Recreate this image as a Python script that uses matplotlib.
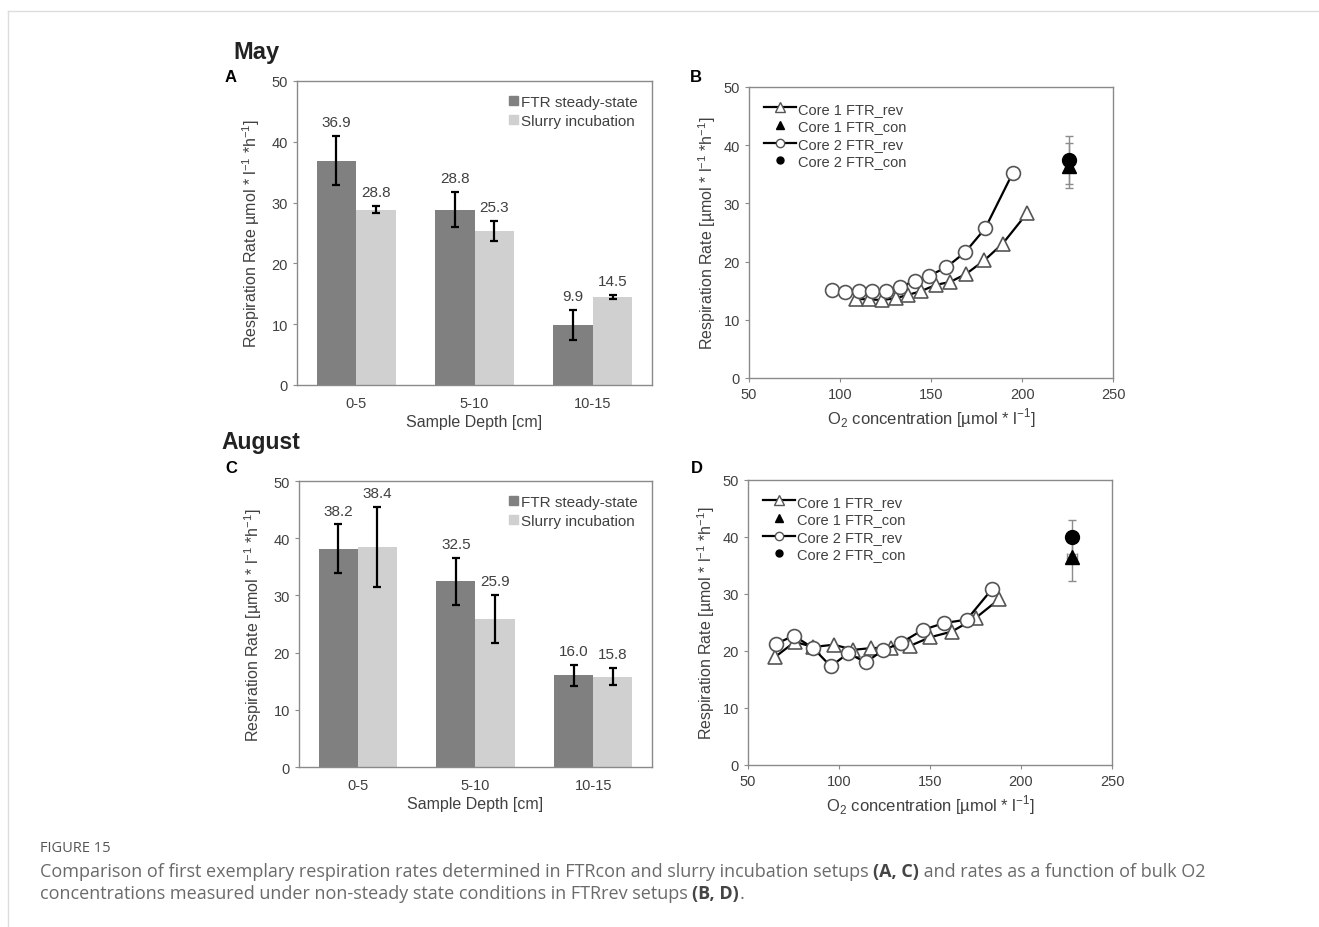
import matplotlib
matplotlib.use("Agg")
from matplotlib import pyplot as plt
from matplotlib.patches import Patch
from matplotlib.lines import Line2D
import numpy as np

plt.rcParams['font.family'] = ['Liberation Sans', 'DejaVu Sans']

# bar panels (A = May, C = August)
depths = ["0-5", "5-10", "10-15"]
may_ftr = [36.9, 28.8, 9.9]
may_ftr_err = [4.0, 2.9, 2.5]
may_slurry = [28.8, 25.3, 14.5]
may_slurry_err = [0.6, 1.7, 0.3]
aug_ftr = [38.2, 32.5, 16.0]
aug_ftr_err = [4.2, 4.1, 1.9]
aug_slurry = [38.4, 25.9, 15.8]
aug_slurry_err = [7.0, 4.2, 1.45]

# May non-steady state (B)
may_c1_o2 = [108.5, 115.9, 123.2, 130.6, 137.5, 144.3, 152.6, 160.5, 169.3, 179.2, 189.4, 202.7]
may_c1_rate = [13.6, 13.5, 13.4, 13.7, 14.3, 14.9, 16.0, 16.5, 17.9, 20.2, 23.1, 28.3]
may_c2_o2 = [95.3, 102.7, 110.6, 117.7, 125.2, 132.9, 141.0, 149.1, 158.3, 168.7, 179.7, 195.0]
may_c2_rate = [15.1, 14.7, 14.9, 14.9, 15.0, 15.7, 16.6, 17.6, 19.0, 21.6, 25.7, 35.3]
may_con_o2 = [225.5, 225.5]
may_con_rate = [36.5, 37.5]
may_con_yerr = [3.8, 4.1]
may_con_xerr = [2.0, 2.0]

# August non-steady state (D)
aug_c1_o2 = [64.7, 75.7, 85.8, 97.2, 107.8, 117.5, 128.5, 139.0, 150.0, 161.9, 175.1, 188.0]
aug_c1_rate = [18.9, 21.6, 20.7, 21.1, 20.2, 20.5, 20.6, 20.9, 22.4, 23.4, 25.8, 29.1]
aug_c2_o2 = [65.2, 75.1, 85.8, 95.5, 105.0, 114.8, 123.9, 133.9, 146.0, 157.7, 170.2, 183.9]
aug_c2_rate = [21.2, 22.7, 20.5, 17.3, 19.6, 18.0, 20.1, 21.4, 23.7, 24.9, 25.5, 30.8]
aug_con_o2 = [228.0, 228.0]
aug_con_rate = [36.4, 40.0]
aug_con_yerr = [4.1, 3.0]
aug_con_xerr = [2.5, 2.5]

txt = "#404040"
spine = "#8a8a8a"
dark = "#808080"
light = "#d0d0d0"

fig = plt.figure(figsize=(13.19, 9.28), dpi=100)


def style(ax):
    for s in ax.spines.values():
        s.set_color(spine)
        s.set_linewidth(1.0)
    ax.tick_params(colors=spine, labelcolor=txt, labelsize=10.5, length=3)


def bars(ax, ftr, ftr_err, slu, slu_err, ylab):
    x = np.arange(len(depths))
    w = 1 / 3
    ax.bar(x - w / 2, ftr, w, color=dark, label="FTR steady-state")
    ax.bar(x + w / 2, slu, w, color=light, label="Slurry incubation")
    ax.errorbar(x - w / 2, ftr, yerr=ftr_err, fmt="none", ecolor="black", elinewidth=1.6, capsize=3, capthick=1.6)
    ax.errorbar(x + w / 2, slu, yerr=slu_err, fmt="none", ecolor="black", elinewidth=1.6, capsize=3, capthick=1.6)
    for xi, v, e in zip(x - w / 2, ftr, ftr_err):
        ax.annotate(f"{v:.1f}", (xi, v + e), xytext=(0, 5), textcoords="offset points",
                    ha="center", va="bottom", fontsize=11, color=txt)
    for xi, v, e in zip(x + w / 2, slu, slu_err):
        ax.annotate(f"{v:.1f}", (xi, v + e), xytext=(0, 5), textcoords="offset points",
                    ha="center", va="bottom", fontsize=11, color=txt)
    ax.set_xlim(-0.5, 2.5)
    ax.set_ylim(0, 50)
    ax.set_yticks(range(0, 51, 10))
    ax.set_xticks(x)
    ax.set_xticklabels(depths)
    style(ax)
    ax.tick_params(axis="x", length=0, pad=8)
    ax.set_xlabel("Sample Depth [cm]", fontsize=11.5, color=txt, labelpad=3)
    ax.set_ylabel(ylab, fontsize=11.5, color=txt, labelpad=7)
    h = [Patch(color=dark), Patch(color=light)]
    ax.legend(h, ["FTR steady-state", "Slurry incubation"], loc="upper right", frameon=False,
              fontsize=11, handlelength=0.55, handleheight=0.55, handletextpad=0.25,
              labelspacing=0.35, labelcolor=txt, borderaxespad=0.5)


def curves(ax, c1x, c1y, c2x, c2y, cx, cy, cyerr, cxerr):
    ax.errorbar(cx, cy, yerr=cyerr, xerr=cxerr, fmt="none", ecolor="#8c8c8c", elinewidth=1.0, capsize=3)
    ax.plot(c1x, c1y, color="black", lw=1.6, marker="^", ms=10, mfc="white", mec="#555555", mew=1.2)
    ax.plot(c2x, c2y, color="black", lw=1.6, marker="o", ms=10, mfc="white", mec="#555555", mew=1.2)
    ax.plot(cx[0], cy[0], "^", color="black", ms=10)
    ax.plot(cx[1], cy[1], "o", color="black", ms=10)
    ax.set_xlim(50, 250)
    ax.set_ylim(0, 50)
    ax.set_xticks(range(50, 251, 50))
    ax.set_yticks(range(0, 51, 10))
    style(ax)
    ax.set_xlabel(r"O$_{\mathregular{2}}$ concentration [µmol * l$^{\mathregular{-1}}$]", fontsize=12, color=txt, labelpad=3)
    ax.set_ylabel(r"Respiration Rate [µmol * l$^{\mathregular{-1}}$ *h$^{\mathregular{-1}}$]", fontsize=11.5, color=txt, labelpad=4)
    h = [Line2D([], [], color="black", lw=1.6, marker="^", ms=7, mfc="white", mec="#555555"),
         Line2D([], [], ls="none", marker="^", color="black", ms=6),
         Line2D([], [], color="black", lw=1.6, marker="o", ms=6, mfc="white", mec="#555555"),
         Line2D([], [], ls="none", marker="o", color="black", ms=5)]
    ax.legend(h, ["Core 1 FTR_rev", "Core 1 FTR_con", "Core 2 FTR_rev", "Core 2 FTR_con"],
              loc="upper left", frameon=False, fontsize=10.5, handlelength=2.2, handletextpad=0.15,
              labelspacing=0.25, labelcolor=txt, borderaxespad=0.6)


axA = fig.add_axes([0.2252, 0.5841, 0.2691, 0.3276])
bars(axA, may_ftr, may_ftr_err, may_slurry, may_slurry_err,
     r"Respiration Rate µmol * l$^{\mathregular{-1}}$ *h$^{\mathregular{-1}}$]")
axC = fig.add_axes([0.2267, 0.1724, 0.2676, 0.3082])
bars(axC, aug_ftr, aug_ftr_err, aug_slurry, aug_slurry_err,
     r"Respiration Rate [µmol * l$^{\mathregular{-1}}$ *h$^{\mathregular{-1}}$]")
axB = fig.add_axes([0.5679, 0.5916, 0.2760, 0.3136])
curves(axB, may_c1_o2, may_c1_rate, may_c2_o2, may_c2_rate, may_con_o2, may_con_rate, may_con_yerr, may_con_xerr)
axD = fig.add_axes([0.5671, 0.1746, 0.2760, 0.3071])
curves(axD, aug_c1_o2, aug_c1_rate, aug_c2_o2, aug_c2_rate, aug_con_o2, aug_con_rate, aug_con_yerr, aug_con_xerr)

W, H = 1319, 928
def put(x, y, s, **kw):
    return fig.text(x / W, 1 - y / H, s, **kw)

put(233, 53, "May", fontsize=17, fontweight="bold", color="#222222", va="center")
put(225, 78, "A", fontsize=12, fontweight="bold", color="black", va="center")
put(221, 443, "August", fontsize=16.5, fontweight="bold", color="#222222", va="center")
put(225, 469, "C", fontsize=12, fontweight="bold", color="black", va="center")
put(690, 78, "B", fontsize=12, fontweight="bold", color="black", va="center")
put(691, 469, "D", fontsize=12, fontweight="bold", color="black", va="center")

# page frame
fig.add_artist(Line2D([8 / W, 1], [1 - 12 / H, 1 - 12 / H], color="#dddddd", lw=1))
fig.add_artist(Line2D([8 / W, 8 / W], [0, 1 - 12 / H], color="#dddddd", lw=1))

# caption
cap_font = ["Open Sans", "DejaVu Sans"]
put(40, 848, "FIGURE 15", fontsize=10.5, color="#555555", family=cap_font, va="center")
fig.canvas.draw()
r = fig.canvas.get_renderer()


def run(x, y, parts):
    for s, bold in parts:
        t = put(x, y, s, fontsize=13, color="#6a6a6a" if not bold else "#444444",
                fontweight="bold" if bold else "normal", family=cap_font, va="center")
        x += t.get_window_extent(r).width


run(40, 872, [("Comparison of first exemplary respiration rates determined in FTRcon and slurry incubation setups ", False),
              ("(A, C)", True),
              (" and rates as a function of bulk O2", False)])
run(40, 894, [("concentrations measured under non-steady state conditions in FTRrev setups ", False),
              ("(B, D)", True), (".", False)])

fig.savefig("out.png", dpi=100)
